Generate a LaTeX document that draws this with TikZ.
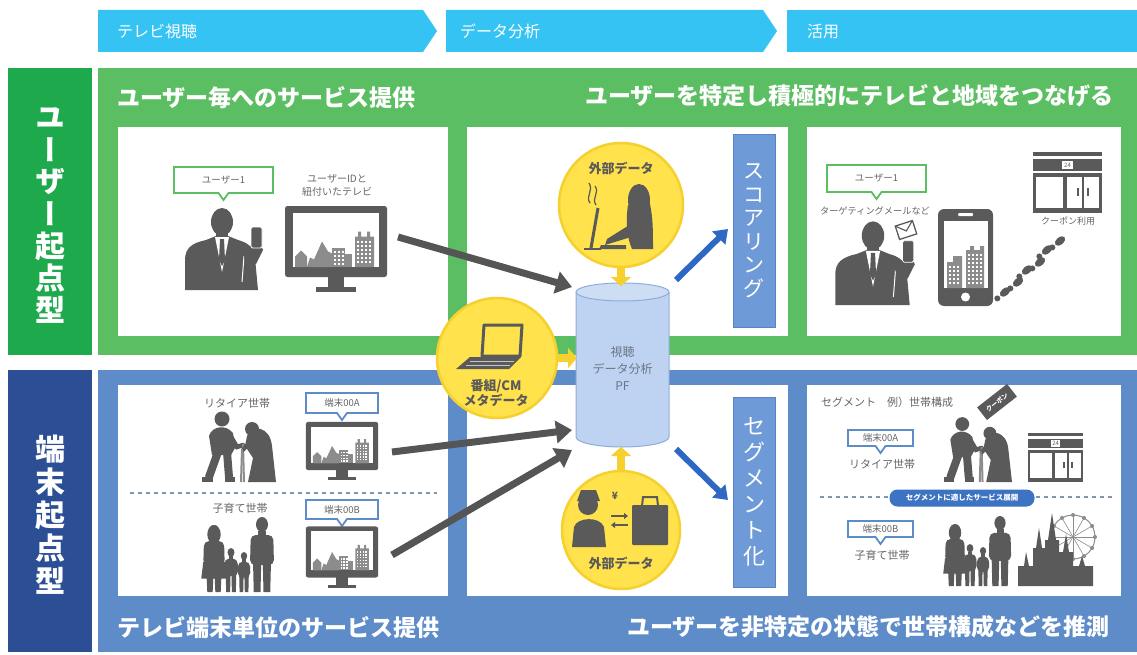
\documentclass[tikz,border=0pt]{standalone}
\usepackage{fontspec}
\setmainfont{Noto Sans CJK JP}
\newfontfamily\jpvert[RawFeature=+vert]{Noto Sans CJK JP}
\usetikzlibrary{arrows.meta}

\definecolor{bandcyan}{HTML}{35C3F4}
\definecolor{sidegreen}{HTML}{1EAA4C}
\definecolor{sideblue}{HTML}{2C4E95}
\definecolor{pgreen}{HTML}{5CBE62}
\definecolor{pblue}{HTML}{5E8CC9}
\definecolor{yel}{HTML}{FFE24C}
\definecolor{yeld}{HTML}{F6D02C}
\definecolor{icogray}{HTML}{5A5A5A}
\definecolor{skygray}{HTML}{8C8C8C}
\definecolor{txtgray}{HTML}{666666}
\definecolor{barblue}{HTML}{6F9AD8}
\definecolor{barblued}{HTML}{5684C6}
\definecolor{arrblue}{HTML}{2F68C4}
\definecolor{arrgray}{HTML}{555555}
\definecolor{cylfill}{HTML}{BED3F1}
\definecolor{cyltop}{HTML}{CCDDF4}
\definecolor{cyledge}{HTML}{8FADD9}
\definecolor{dashgray}{HTML}{8393B3}
\definecolor{seglabel}{HTML}{3D73C3}
\definecolor{pftext}{HTML}{6B7685}

% speech bubble: name, x1, y1, x2, y2, colour, text
\newcommand{\mybubble}[7]{%
  \draw[#6, line width=1.8, fill=white] (#2,#3) -- (#4,#3) -- (#4,#5)
    -- ({(#2+#4)/2+5},#5) -- ({(#2+#4)/2},{#5+7}) -- ({(#2+#4)/2-5},#5)
    -- (#2,#5) -- cycle;
  \node[bubtxt] (#1) at ({(#2+#4)/2},{(#3+#5)/2}) {#7};}

\tikzset{
  hdr/.style={font=\bfseries\fontsize{23}{26}\selectfont, text=white, inner sep=0},
  bandtxt/.style={font=\fontsize{16}{19}\selectfont, text=white, anchor=west, inner sep=0},
  sidechar/.style={font=\jpvert\bfseries\fontsize{30}{30}\selectfont, text=white, inner sep=0},
  lbl/.style={font=\fontsize{10}{13}\selectfont, text=txtgray, inner sep=0, align=center},
  bubtxt/.style={font=\fontsize{9.5}{11}\selectfont, text=txtgray, inner sep=0},
  circ/.style={circle, fill=yel, draw=yeld, line width=2.5, inner sep=0},
  circtxt/.style={font=\bfseries\fontsize{13}{15.5}\selectfont, text=icogray, inner sep=0, align=center},
  vbar/.style={fill=barblue, draw=barblued, line width=1, inner sep=0, align=center, text=white},
  pftxt/.style={font=\fontsize{12}{17}\selectfont, text=pftext, inner sep=0, align=center},
  grayarrow/.style={draw=arrgray, line width=7, -{Triangle[length=16pt,width=22pt]}},
  bluearrow/.style={draw=arrblue, line width=6, -{Triangle[length=13pt,width=18pt]}},
  yelarrow/.style={draw=yeld, line width=8, -{Triangle[length=9pt,width=20pt]}},
  % television with skyline on screen, origin at frame centre
  tvset/.pic={
    \fill[icogray, rounded corners=2.5] (-51,-35.5) rectangle (51,35.5);
    \fill[white] (-43,-28.5) rectangle (43,25.5);
    \fill[skygray] (-41,25.5) -- (-41,15) -- (-35,9) -- (-29,15) -- (-29,25.5) -- cycle;
    \fill[skygray] (-29,25.5) -- (-26,16) -- (-22,18) -- (-14,0) -- (-8,10) -- (-4,12) -- (-4,25.5) -- cycle;
    \fill[skygray] (-4,6) rectangle (9,25.5);
    \fill[skygray] (9,12) rectangle (16,25.5);
    \fill[skygray] (19,25.5) -- (19,-5) -- (22,-5) -- (22,-10) -- (25,-10) -- (25,-5) -- (31,-5)
      -- (31,-10) -- (34,-10) -- (34,-5) -- (38,-5) -- (38,25.5) -- cycle;
    \foreach \wx in {21,25,29,33} \foreach \wy in {-1,3,...,21} \fill[white] (\wx,\wy) rectangle ++(2,2);
    \foreach \wx in {-2,2,6} \foreach \wy in {9,13,...,21} \fill[white] (\wx,\wy) rectangle ++(2,2);
    \fill[icogray] (-8,35) rectangle (8,45.5);
    \fill[icogray] (-20,45.5) rectangle (20,50);
  },
  % man in a suit holding a phone, origin at bottom centre
  suitman/.pic={
    \fill[icogray] (0,-68) ellipse[x radius=11, y radius=14];
    \fill[icogray] (-6,-58) rectangle (6,-50);
    \fill[icogray] (-37,0) -- (-37,-30) .. controls (-37,-42) and (-30,-47) .. (-16,-50) -- (-6,-54)
      -- (6,-54) -- (16,-50) .. controls (27,-47) and (32,-42) .. (33,-32) -- (36,0) -- cycle;
    \fill[white] (-7,-53) -- (7,-53) -- (0,-18) -- cycle;
    \fill[icogray] (-2,-51) -- (2,-51) -- (3,-30) -- (0,-24) -- (-3,-30) -- cycle;
    \draw[white, line width=1] (20,-8) -- (22,-34);
    \fill[icogray] (22,-34) -- (28,-44) -- (38,-46) -- (41,-40) -- (34,-26) -- (24,-24) -- cycle;
    \fill[icogray, draw=white, line width=0.8, rounded corners=1.5] (29,-63) rectangle (40,-42);
  },
  % elderly couple with canes, origin at bottom centre
  oldpair/.pic={
    \fill[icogray] (-16,-63) circle (7.5);
    \fill[icogray] (-29,-46) .. controls (-26,-56) and (-12,-58) .. (-5,-49) -- (-3,-34) -- (-7,-27) -- (-26,-27) -- cycle;
    \draw[icogray, line width=4.5, line cap=round] (-8,-47) -- (-1,-35) -- (5,-37);
    \draw[skygray, line width=2] (5,-38) -- (6,0);
    \draw[icogray, line width=8, line cap=round] (-20,-30) -- (-29,-5);
    \draw[icogray, line width=8, line cap=round] (-11,-30) -- (-9,-5);
    \fill[icogray] (-36,-5) rectangle (-25,0);
    \fill[icogray] (-13,-5) rectangle (-3,0);
    \fill[icogray] (14,-53) circle (7);
    \fill[icogray] (9,-46) .. controls (14,-58) and (32,-56) .. (34,-36) -- (38,0) -- (10,0) -- (15,-24) -- (7,-36) -- cycle;
    \draw[icogray, line width=4, line cap=round] (13,-41) -- (5,-32);
    \draw[skygray, line width=2] (4,-33) -- (3,0);
  },
  % standing figure, 100 units tall, origin at bottom centre
  folk/.pic={
    \fill[icogray] (0,-90) ellipse[x radius=8, y radius=10];
    \fill[icogray] (-5,-82) rectangle (5,-74);
    \fill[icogray, rounded corners=5] (-15,-76) -- (15,-76) -- (16,-36) -- (-16,-36) -- cycle;
    \fill[icogray] (-12,-42) -- (-1,-42) -- (-2,0) -- (-11,0) -- cycle;
    \fill[icogray] (1,-42) -- (12,-42) -- (11,0) -- (2,0) -- cycle;
  },
  % standing woman with long hair and dress, 100 units tall
  folkwoman/.pic={
    \fill[icogray] (0,-86) ellipse[x radius=10, y radius=14];
    \fill[icogray] (0,-90) ellipse[x radius=8, y radius=10];
    \fill[icogray, rounded corners=5] (-15,-76) -- (15,-76) -- (16,-40) -- (-16,-40) -- cycle;
    \fill[icogray] (-16,-45) -- (16,-45) -- (19,-20) -- (-19,-20) -- cycle;
    \fill[icogray] (-11,-22) -- (-1,-22) -- (-2,0) -- (-10,0) -- cycle;
    \fill[icogray] (1,-22) -- (11,-22) -- (10,0) -- (2,0) -- cycle;
  },
  % convenience store front, origin at top left
  shopfront/.pic={
    \fill[icogray] (0,0) rectangle (69,4);
    \fill[icogray] (0,7) rectangle (69,19);
    \fill[white] (29,9) rectangle (40,17);
    \node[font=\fontsize{6}{6}\selectfont, text=icogray, inner sep=0] (sign) at (34.5,13) {24};
    \fill[icogray] (0,21) rectangle (69,25);
    \fill[icogray] (0,25) rectangle (3,61);
    \fill[icogray] (66,25) rectangle (69,61);
    \fill[icogray] (30,25) rectangle (34,61);
    \fill[icogray] (49,25) rectangle (51,61);
    \fill[icogray] (0,56) rectangle (69,61);
    \fill[icogray] (44,36) rectangle (46,44);
    \fill[icogray] (54,36) rectangle (56,44);
  },
}

\begin{document}
\begin{tikzpicture}[x=1pt,y=-1pt]
\useasboundingbox (0,0) rectangle (1137,655);
\fill[white] (0,0) rectangle (1137,655);

% process banners
\fill[bandcyan] (98,10) -- (423,10) -- (437,31) -- (423,52) -- (98,52) -- cycle;
\fill[bandcyan] (446,10) -- (763,10) -- (777,31) -- (763,52) -- (446,52) -- cycle;
\fill[bandcyan] (787,10) -- (1137,10) -- (1137,52) -- (787,52) -- cycle;
\node[bandtxt] (b1) at (117,31) {テレビ視聴};
\node[bandtxt] (b2) at (460,31) {データ分析};
\node[bandtxt] (b3) at (807,31) {活用};

% row labels
\fill[sidegreen] (8,68) rectangle (92,355);
\foreach \ch [count=\i from 0] in {ユ,ー,ザ,ー,起,点,型}
  \node[sidechar] (ua\i) at (50,{118+32*\i}) {\ch};
\fill[sideblue] (8,370) rectangle (92,652);
\foreach \ch [count=\i from 0] in {端,末,起,点,型}
  \node[sidechar] (ub\i) at (50,{449+33*\i}) {\ch};

% row panels
\fill[pgreen] (98,68) rectangle (1137,355);
\fill[pblue] (98,370) rectangle (1137,652);
\fill[white] (118,127) rectangle (448,336);
\fill[white] (467,127) rectangle (788,336);
\fill[white] (807,127) rectangle (1121,336);
\fill[white] (118,385) rectangle (448,596);
\fill[white] (467,385) rectangle (788,596);
\fill[white] (807,385) rectangle (1121,596);

\node[hdr, anchor=west] (h1) at (117,98) {ユーザー毎へのサービス提供};
\node[hdr, anchor=east] (h2) at (1114,96) {ユーザーを特定し積極的にテレビと地域をつなげる};
\node[hdr, anchor=west] (h3) at (117,628) {テレビ端末単位のサービス提供};
\node[hdr, anchor=east] (h4) at (1110,627) {ユーザーを非特定の状態で世帯構成などを推測};

% ---- user side, viewing
\mybubble{u1a}{174}{167}{273}{193}{pgreen}{ユーザー1}
\pic at (222,290) {suitman};
\node[lbl] (tvlbl) at (337,185) {ユーザーIDと\\紐付いたテレビ};
\pic at (336,241.5) {tvset};
\coordinate (tvtop) at (398,237);

% ---- user side, use
\mybubble{u1b}{827}{165}{926}{192}{pgreen}{ユーザー1}
\node[lbl, font=\fontsize{9.2}{11}\selectfont] (mail) at (875,211) {ターゲティングメールなど};
\pic[scale=1.02] at (873,305) {suitman};
\begin{scope}[rotate around={18:(906,230)}]
  \draw[icogray, fill=white, line width=1.3] (897,223) rectangle (915,237);
  \draw[icogray, line width=1.1] (897,223) -- (906,231) -- (915,223);
\end{scope}
\fill[icogray, rounded corners=6] (938,209) rectangle (993,306);
\fill[white] (944,221) rectangle (988,288);
\fill[white, rounded corners=1] (958,213) rectangle (973,216);
\fill[white] (965.5,297) circle (4.5);
\fill[skygray] (947,288) -- (947,262) -- (953,262) -- (953,256) -- (962,256) -- (962,288) -- cycle;
\fill[skygray] (966,288) -- (966,250) -- (970,250) -- (970,246) -- (974,246) -- (974,250) -- (980,250)
  -- (980,246) -- (984,246) -- (984,288) -- cycle;
\foreach \wx in {968,972,976,980} \foreach \wy in {254,258,...,284} \fill[white] (\wx,\wy) rectangle ++(1.8,1.8);
\foreach \wx in {949,953,957} \foreach \wy in {266,270,...,284} \fill[white] (\wx,\wy) rectangle ++(1.8,1.8);
\pic at (1033,152) {shopfront};
\node[lbl, font=\fontsize{9}{11}\selectfont] (cpn) at (1068,221) {クーポン利用};
\foreach \fx/\fy in {1005/292,1018/282,1027/270,1040/262,1047/250,1060/241} {
  \fill[icogray, rotate around={40:(\fx,\fy)}] (\fx,\fy) ellipse[x radius=6, y radius=3.6];
  \fill[icogray, rotate around={40:(\fx,\fy)}] ({\fx-10},\fy) ellipse[x radius=3, y radius=3];
}

% ---- data analysis core
\node[circ, minimum size=124] (extTop) at (621,205) {};
\node[circtxt] (extTopTxt) at (621,168) {外部データ};
\draw[icogray, line width=1.2] (590,203) .. controls (585,196) and (594,191) .. (589,183);
\draw[icogray, line width=1.2] (596,205) .. controls (591,198) and (600,193) .. (595,186);
\draw[icogray, line width=3] (591,248) -- (598,208);
\draw[icogray, line width=2.5] (584,249) -- (601,249);
\fill[icogray] (639,200) ellipse[x radius=11, y radius=16];
\fill[icogray] (628,205) .. controls (625,225) and (628,240) .. (632,249) -- (653,249)
  .. controls (653,230) and (653,215) .. (649,200) -- cycle;
\fill[icogray] (631,224) -- (607,239) -- (605,245) -- (631,237) -- cycle;
\fill[icogray] (601,245) -- (626,245) -- (626,249) -- (599,249) -- cycle;

\node[circ, minimum size=120] (meta) at (497,358) {};
\filldraw[fill=yel, draw=icogray, line width=3, line join=round] (484,325) -- (522,325) -- (520,356) -- (482,356) -- cycle;
\fill[icogray] (470,357) -- (521,357) -- (509,369) -- (456,369) -- cycle;
\draw[white!65!icogray, line width=0.8] (470,361) -- (514,361);
\draw[white!65!icogray, line width=0.8] (466,365) -- (510,365);
\node[circtxt] (metaTxt) at (496,393) {番組/CM\\メタデータ};

\node[circ, minimum size=118] (extBot) at (621,530) {};
\fill[icogray] (588,505) circle (10);
\fill[icogray] (577,501) -- (600,501) -- (596,490) -- (581,490) -- cycle;
\fill[icogray] (572,547) -- (574,527) .. controls (577,517) and (600,516) .. (604,527) -- (606,547) -- cycle;
\fill[icogray, rounded corners=1] (632,505) rectangle (668,545);
\draw[icogray, line width=2] (642,506) -- (643,497) -- (657,497) -- (658,506);
\draw[icogray, line width=2, -{Triangle[length=4pt,width=6pt]}] (611,516) -- (628,516);
\draw[icogray, line width=2, -{Triangle[length=4pt,width=6pt]}] (628,525) -- (611,525);
\node[font=\bfseries\fontsize{10}{10}\selectfont, text=icogray, inner sep=0] (yen) at (615,496) {¥};
\node[circtxt] (extBotTxt) at (621,563) {外部データ};

% viewing data platform cylinder
\fill[cylfill] (576,292) rectangle (669,437);
\fill[cylfill] (622.5,437) ellipse[x radius=46.5, y radius=10];
\draw[cyledge, line width=1] (576,292) -- (576,437) arc[start angle=180, end angle=0, x radius=46.5, y radius=10] -- (669,292);
\draw[cyledge, line width=1, fill=cyltop] (622.5,292) ellipse[x radius=46.5, y radius=9];
\node[pftxt] (pf) at (622.5,368) {視聴\\データ分析\\PF};
\coordinate (pfTop) at (621,286);
\coordinate (pfLeft) at (577,358);
\coordinate (pfBot) at (621,447);
\coordinate (pfInA) at (572,287);
\coordinate (pfInB) at (572,430);
\coordinate (pfInC) at (572,450);
\coordinate (pfOutA) at (676,280);
\coordinate (pfOutB) at (676,449);

% scoring and segmentation bars
\node[vbar, minimum width=42, minimum height=192, font=\fontsize{21}{23.5}\selectfont] (score) at (754,231) {ス\\コ\\ア\\リ\\ン\\グ};
\node[vbar, minimum width=42, minimum height=190, font=\fontsize{22}{26}\selectfont] (seg) at (754,492) {セ\\グ\\メ\\ン\\ト\\化};
\coordinate (scoreIn) at (728,229);
\coordinate (segIn) at (728,500);

\draw[yelarrow] (extTop.south) -- (pfTop);
\draw[yelarrow] (meta.east) -- (pfLeft);
\draw[yelarrow] (extBot.north) -- (pfBot);
\draw[bluearrow] (pfOutA) -- (scoreIn);
\draw[bluearrow] (pfOutB) -- (segIn);

% ---- terminal side, viewing
\node[lbl, font=\fontsize{11}{13}\selectfont] (retire) at (237,403) {リタイア世帯};
\mybubble{tA}{306}{393}{378}{413}{pblue}{端末00A}
\pic at (238,482) {oldpair};
\pic[xscale=0.71, yscale=0.68] at (342,446) {tvset};
\coordinate (tvA) at (392,452);
\draw[dashgray, line width=1.3, dash pattern=on 4pt off 4pt] (130,493) -- (437,493);
\node[lbl, font=\fontsize{11}{13}\selectfont] (kids) at (240,508) {子育て世帯};
\mybubble{tB}{306}{500}{378}{519}{pblue}{端末00B}
\pic[scale=0.67] at (214,592) {folkwoman};
\pic[scale=0.44] at (231,592) {folk};
\pic[scale=0.40] at (244,592) {folk};
\pic[scale=0.75] at (262,592) {folk};
\pic[xscale=0.71, yscale=0.72] at (342,552) {tvset};
\coordinate (tvB) at (392,555);

\draw[grayarrow] (tvtop) -- (pfInA);
\draw[grayarrow] (tvA) -- (pfInB);
\draw[grayarrow] (tvB) -- (pfInC);

% ---- terminal side, use
\node[lbl, anchor=west, font=\fontsize{11}{13}\selectfont] (segex) at (821,402) {セグメント　例）世帯構成};
\mybubble{sA}{848}{430}{913}{446}{pblue}{端末00A}
\node[lbl, font=\fontsize{11}{13}\selectfont] (retire2) at (882,464) {リタイア世帯};
\pic[scale=0.92] at (977,482) {oldpair};
\node[fill=icogray, rotate=38, text=white, font=\bfseries\fontsize{6.5}{8}\selectfont, minimum width=38, minimum height=16, inner sep=1] (coupon) at (997,402) {クーポン};
\pic[scale=0.8] at (1028,433) {shopfront};
\draw[dashgray, line width=1.3, dash pattern=on 4pt off 4pt] (820,497) -- (1115,497);
\node[fill=seglabel, rounded corners=8, text=white, font=\bfseries\fontsize{7.5}{9}\selectfont, minimum width=145, minimum height=17, inner sep=0] (svc) at (962,498) {セグメントに適したサービス展開};
\mybubble{sB}{848}{521}{913}{537}{pblue}{端末00B}
\node[lbl, font=\fontsize{11}{13}\selectfont] (kids2) at (882,555) {子育て世帯};
\pic[scale=0.62] at (955,586) {folkwoman};
\pic[scale=0.42] at (970,586) {folk};
\pic[scale=0.39] at (983,586) {folk};
\pic[scale=0.70] at (1000,586) {folk};
% ferris wheel and castle
\draw[skygray, line width=1] (1073,537) circle (22);
\foreach \a in {0,30,...,330} \draw[skygray, line width=0.6] (1073,537) -- ++(\a:22);
\foreach \a in {0,30,...,330} \fill[skygray] (1073,537) ++(\a:22) circle (2);
\fill[icogray] (1018,586) -- (1018,566) -- (1024,566) -- (1026,552) -- (1029,566) -- (1033,566)
  -- (1033,548) -- (1036,548) -- (1039,528) -- (1042,548) -- (1045,548) -- (1045,540)
  -- (1048,540) -- (1052,513) -- (1056,540) -- (1059,540) -- (1059,552) -- (1063,552)
  -- (1066,534) -- (1069,552) -- (1073,552) -- (1073,566) -- (1079,566) -- (1082,556)
  -- (1085,566) -- (1093,566) -- (1093,586) -- cycle;
\end{tikzpicture}
\end{document}
